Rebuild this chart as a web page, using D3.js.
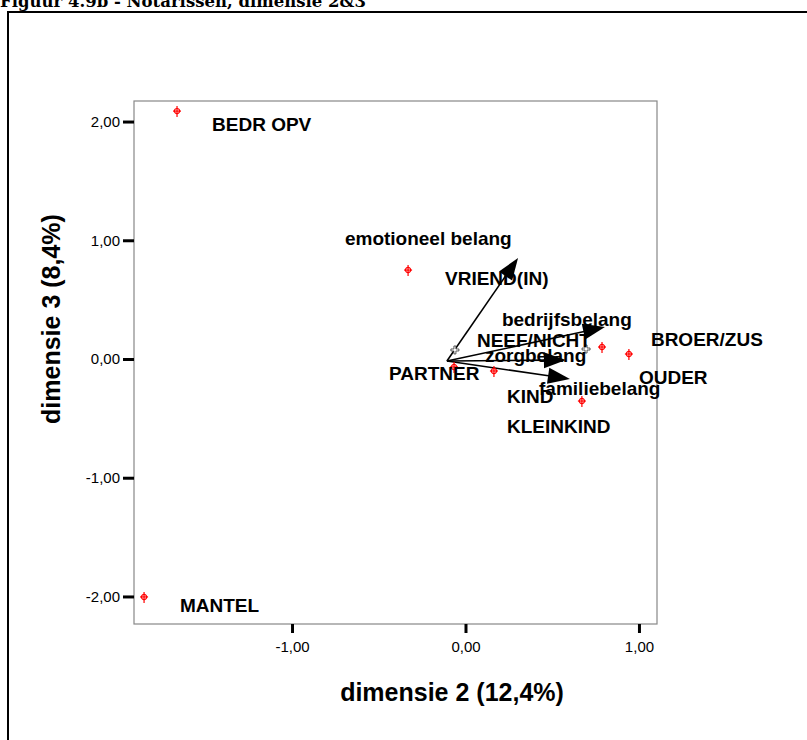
<!DOCTYPE html>
<html>
<head>
<meta charset="utf-8">
<script src="https://cdn.jsdelivr.net/npm/d3@7"></script>
<style>
  body { margin: 0; background: #fff; }
  svg { display: block; }
</style>
</head>
<body>
<div id="viz"></div>
<script>
const width = 807;
const height = 740;
const plot = { left: 134, right: 657, top: 101, bottom: 624 };

// axis domains and ticks (dimension 2 on x, dimension 3 on y)
const xDomain = [-1.911, 1.104];
const yDomain = [-2.232, 2.173];
const xTicks = [-1, 0, 1];
const yTicks = [-2, -1, 0, 1, 2];

// category points (red markers)
const pointX = [-1.663, -0.331, -0.066, 0.164, 0.787, 0.942, 0.671, -1.853];
const pointY = [2.088, 0.749, -0.067, -0.101, 0.101, 0.042, -0.354, -2.004];

// category labels and where they sit (data units, left / baseline)
const catNames = ["BEDR OPV", "VRIEND(IN)", "NEEF/NICHT", "PARTNER", "BROER/ZUS", "OUDER", "KIND", "KLEINKIND", "MANTEL"];
const catLabelX = [-1.461, -0.118, 0.066, -0.441, 1.069, 1.000, 0.239, 0.239, -1.646];
const catLabelY = [1.920, 0.623, 0.101, -0.177, 0.109, -0.211, -0.371, -0.623, -2.131];

// variable vectors (arrows)
const arrowOrigin = [-0.107, -0.017];
const varNames = ["emotioneel belang", "bedrijfsbelang", "zorgbelang", "familiebelang"];
const varX = [0.303, 0.804, 0.579, 0.602];
const varY = [0.851, 0.269, -0.008, -0.168];
const varLabelX = [-0.695, 0.210, 0.112, 0.424];
const varLabelY = [0.960, 0.278, -0.025, -0.303];

// supplementary points (grey crosses)
const suppX = [-0.061, 0.695];
const suppY = [0.076, 0.084];

const xScale = d3.scaleLinear().domain(xDomain).range([plot.left, plot.right]);
const yScale = d3.scaleLinear().domain(yDomain).range([plot.bottom, plot.top]);

const fmt = d3.formatLocale({ decimal: ",", thousands: ".", grouping: [3], currency: ["", ""], minus: "-" }).format(".2f");

const svg = d3.select('#viz')
  .append('svg')
    .attr('width', width)
    .attr('height', height)
    .attr('viewBox', [0, 0, width, height]);

// page caption, cut off at the top
svg.append('text')
  .attr('x', 0)
  .attr('y', 7)
  .attr('font-family', 'DejaVu Serif')
  .attr('font-weight', 'bold')
  .attr('font-size', 16.5)
  .text('Figuur 4.9b - Notarissen, dimensie 2&3');

// outer frame
svg.append('rect')
  .attr('x', 8).attr('y', 12)
  .attr('width', 1000).attr('height', 1000)
  .attr('fill', 'none')
  .attr('stroke', '#000')
  .attr('stroke-width', 2);

// plot frame
svg.append('rect')
  .attr('x', plot.left).attr('y', plot.top)
  .attr('width', plot.right - plot.left)
  .attr('height', plot.bottom - plot.top)
  .attr('fill', 'none')
  .attr('stroke', '#888')
  .attr('stroke-width', 1.2);

// axes
const xAxis = svg.append('g')
  .attr('transform', `translate(0, ${plot.bottom})`)
  .call(d3.axisBottom(xScale).tickValues(xTicks).tickFormat(fmt).tickSize(9).tickPadding(8));
const yAxis = svg.append('g')
  .attr('transform', `translate(${plot.left}, 0)`)
  .call(d3.axisLeft(yScale).tickValues(yTicks).tickFormat(fmt).tickSize(11).tickPadding(3));

[xAxis, yAxis].forEach(ax => {
  ax.select('.domain').remove();
  ax.selectAll('line').attr('stroke', '#000').attr('stroke-width', 3);
  ax.selectAll('text')
    .attr('fill', '#000')
    .attr('font-family', 'Liberation Sans, Arial, sans-serif')
    .attr('font-size', 15);
});

// axis titles
svg.append('text')
  .attr('x', 452).attr('y', 701)
  .attr('text-anchor', 'middle')
  .attr('font-family', 'Liberation Sans, Arial, sans-serif')
  .attr('font-weight', 'bold')
  .attr('font-size', 25)
  .text('dimensie 2 (12,4%)');

svg.append('text')
  .attr('transform', 'translate(60, 319) rotate(-90)')
  .attr('text-anchor', 'middle')
  .attr('font-family', 'Liberation Sans, Arial, sans-serif')
  .attr('font-weight', 'bold')
  .attr('font-size', 25)
  .text('dimensie 3 (8,4%)');

// arrows
const ox = xScale(arrowOrigin[0]);
const oy = yScale(arrowOrigin[1]);
const arrows = svg.append('g');
varNames.forEach((name, i) => {
  const tx = xScale(varX[i]);
  const ty = yScale(varY[i]);
  const dx = tx - ox, dy = ty - oy;
  const len = Math.sqrt(dx * dx + dy * dy);
  const ux = dx / len, uy = dy / len;
  const headLen = 22, headHalf = 8;
  const bx = tx - ux * headLen, by = ty - uy * headLen;
  arrows.append('line')
    .attr('x1', ox).attr('y1', oy)
    .attr('x2', bx + ux * 2).attr('y2', by + uy * 2)
    .attr('stroke', '#000')
    .attr('stroke-width', 1.6);
  arrows.append('path')
    .attr('d', `M${tx},${ty}L${bx - uy * headHalf},${by + ux * headHalf}L${bx + uy * headHalf},${by - ux * headHalf}Z`)
    .attr('fill', '#000');
});

// grey crosses
const plus = 'M-1,-4H1V-1H4V1H1V4H-1V1H-4V-1H-1Z';
svg.append('g').selectAll('path')
  .data(suppX)
  .join('path')
    .attr('transform', (d, i) => `translate(${xScale(d)}, ${yScale(suppY[i])})`)
    .attr('d', plus)
    .attr('fill', '#fff')
    .attr('stroke', '#333')
    .attr('stroke-width', 0.8);

// red category markers
const markers = svg.append('g').selectAll('g')
  .data(pointX)
  .join('g')
    .attr('transform', (d, i) => `translate(${xScale(d)}, ${yScale(pointY[i])})`)
    .attr('stroke', '#ff0000')
    .attr('stroke-width', 1.2)
    .attr('fill', 'none');
markers.append('circle').attr('r', 2.6);
markers.append('line').attr('x1', -4).attr('x2', 4).attr('y1', 0).attr('y2', 0);
markers.append('line').attr('x1', 0).attr('x2', 0).attr('y1', -5).attr('y2', 6);

// labels
const labelFont = g => g
  .attr('font-family', 'Liberation Sans, Arial, sans-serif')
  .attr('font-weight', 'bold')
  .attr('font-size', 19)
  .attr('fill', '#000');

svg.append('g').selectAll('text')
  .data(varNames)
  .join('text')
    .attr('x', (d, i) => xScale(varLabelX[i]))
    .attr('y', (d, i) => yScale(varLabelY[i]))
    .text(d => d)
    .call(labelFont);

svg.append('g').selectAll('text')
  .data(catNames)
  .join('text')
    .attr('x', (d, i) => xScale(catLabelX[i]))
    .attr('y', (d, i) => yScale(catLabelY[i]))
    .text(d => d)
    .call(labelFont);
</script>
</body>
</html>
